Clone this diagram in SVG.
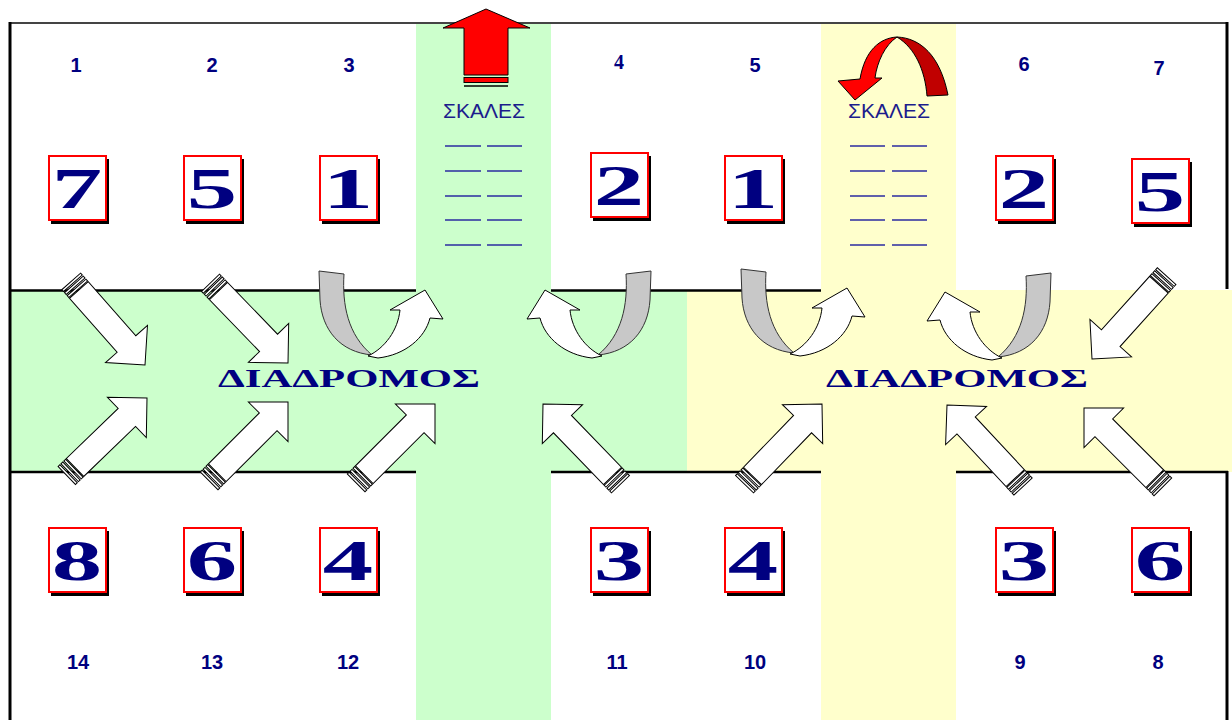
<svg xmlns="http://www.w3.org/2000/svg" xmlns:xlink="http://www.w3.org/1999/xlink" width="1232" height="720" viewBox="0 0 1232 720">
<style>
.shadow{fill:#000}
.box{fill:#fff;stroke:#ff0000;stroke-width:2}
.big{font-family:"Liberation Serif",serif;font-weight:bold;font-size:56px;fill:#000080;text-anchor:middle}
.num{font-family:"Liberation Sans",Arial,sans-serif;font-weight:bold;font-size:20px;fill:#000080;text-anchor:middle}
.skales{font-family:"Liberation Sans",Arial,sans-serif;font-size:21px;fill:#1c1c8c;text-anchor:middle}
.corr{font-family:"Liberation Serif",serif;font-weight:bold;font-size:26px;fill:#000080}
.dash{stroke:#2b2ba0;stroke-width:1.5}
.wall{stroke:#000;stroke-width:2.5;fill:none}
.arr{fill:#fff;stroke:#000;stroke-width:1;stroke-linejoin:miter}
.gray{fill:#c8c8c8;stroke:#333;stroke-width:1}
</style>
<defs>
<g id="sa">
<path class="arr" d="M0,0 L-28,-28 L-28,-12.5 L-100,-12.5 L-100,12.5 L-28,12.5 L-28,28 Z"/>
<rect class="arr" x="-103.5" y="-12.5" width="2.5" height="25"/>
<rect class="arr" x="-107.5" y="-12.5" width="2.5" height="25"/>
<rect class="arr" x="-111.5" y="-12.5" width="2.5" height="25"/>
</g>
<g id="ca">
<path class="gray" d="M319,271 L344,274 C342,305 348,335 372,355 C340,352 322,330 320,300 Z"/>
<path class="arr" d="M368,356 C385,348 398,330 400,310 L390,310 L425,290 L443,319 L430,318 C425,338 405,355 378,358 Z"/>
</g>
</defs>

<g id="background">
<rect x="0" y="0" width="1232" height="720" fill="#fff"/>
<rect x="416" y="24" width="135" height="696" fill="#ccffcc"/>
<rect x="821" y="24" width="135" height="696" fill="#ffffcc"/>
<rect x="10" y="290" width="677" height="182" fill="#ccffcc"/>
<rect x="687" y="290" width="545" height="182" fill="#ffffcc"/>
</g>

<g id="walls">
<line x1="9" y1="23" x2="1228" y2="23" stroke="#444" stroke-width="2"/>
<line x1="10" y1="22" x2="10" y2="720" stroke="#000" stroke-width="3"/>
<line x1="1227" y1="22" x2="1227" y2="289" stroke="#000" stroke-width="3"/>
<line x1="1227" y1="471" x2="1227" y2="720" stroke="#000" stroke-width="3"/>
<line class="wall" x1="10" y1="290.5" x2="416" y2="290.5"/>
<line class="wall" x1="551" y1="290.5" x2="821" y2="290.5"/>
<line class="wall" x1="10" y1="472" x2="416" y2="472"/>
<line class="wall" x1="551" y1="472" x2="821" y2="472"/>
<line class="wall" x1="956" y1="472" x2="1228" y2="472"/>
</g>

<g id="room-numbers">
<text class="num" x="76" y="72">1</text>
<text class="num" x="212" y="72">2</text>
<text class="num" x="349" y="72">3</text>
<text class="num" x="619" y="69" style="font-family:'Liberation Serif',serif">4</text>
<text class="num" x="755" y="72">5</text>
<text class="num" x="1024" y="71">6</text>
<text class="num" x="1159" y="75">7</text>
<text class="num" x="78" y="669">14</text>
<text class="num" x="212" y="669">13</text>
<text class="num" x="348" y="669">12</text>
<text class="num" x="617" y="669">11</text>
<text class="num" x="755" y="669">10</text>
<text class="num" x="1020" y="669">9</text>
<text class="num" x="1158" y="669">8</text>
</g>

<g id="stairs-left">
<path d="M486,9 L530,28 L508,28 L508,75 L464,75 L464,28 L443,28 Z" fill="#ff0000" stroke="#000" stroke-width="1"/>
<rect x="464" y="77.5" width="44" height="5" fill="#ff0000" stroke="#000" stroke-width="1"/>
<line x1="464" y1="86" x2="508" y2="86" stroke="#000" stroke-width="1.5"/>
<text class="skales" x="484" y="118">ΣΚΑΛΕΣ</text>
<g class="dash">
<line x1="445" y1="146" x2="481" y2="146"/><line x1="487" y1="146" x2="522" y2="146"/>
<line x1="445" y1="171" x2="481" y2="171"/><line x1="487" y1="171" x2="522" y2="171"/>
<line x1="445" y1="196" x2="481" y2="196"/><line x1="487" y1="196" x2="522" y2="196"/>
<line x1="445" y1="220" x2="481" y2="220"/><line x1="487" y1="220" x2="522" y2="220"/>
<line x1="445" y1="245" x2="481" y2="245"/><line x1="487" y1="245" x2="522" y2="245"/>
</g>
</g>

<g id="stairs-right">
<path d="M897,37 C920,38 940,55 948,95 L927,96 C925,70 915,48 897,37 Z" fill="#c00000" stroke="#000" stroke-width="1"/>
<path d="M897,37 C880,38 865,50 860,79 L838,81 L855,100 L882,78 L875,78 C877,62 885,45 897,37 Z" fill="#ff0000" stroke="#000" stroke-width="1"/>
<text class="skales" x="889" y="118">ΣΚΑΛΕΣ</text>
<g class="dash">
<line x1="850" y1="146" x2="885" y2="146"/><line x1="892" y1="146" x2="927" y2="146"/>
<line x1="850" y1="171" x2="885" y2="171"/><line x1="892" y1="171" x2="927" y2="171"/>
<line x1="850" y1="196" x2="885" y2="196"/><line x1="892" y1="196" x2="927" y2="196"/>
<line x1="850" y1="220" x2="885" y2="220"/><line x1="892" y1="220" x2="927" y2="220"/>
<line x1="850" y1="245" x2="885" y2="245"/><line x1="892" y1="245" x2="927" y2="245"/>
</g>
</g>

<g id="corridor-labels">
<text class="corr" x="218" y="387" textLength="262" lengthAdjust="spacingAndGlyphs">ΔΙΑΔΡΟΜΟΣ</text>
<text class="corr" x="826" y="387" textLength="262" lengthAdjust="spacingAndGlyphs">ΔΙΑΔΡΟΜΟΣ</text>
</g>

<g id="box-t1"><rect class="shadow" x="51" y="159" width="58" height="65"/><rect class="box" x="49" y="156" width="57" height="64"/><text class="big" transform="translate(77,208) scale(1.8,1)">7</text></g>
<g id="box-t2"><rect class="shadow" x="186" y="159" width="58" height="65"/><rect class="box" x="184" y="156" width="57" height="64"/><text class="big" transform="translate(212,208) scale(1.8,1)">5</text></g>
<g id="box-t3"><rect class="shadow" x="322" y="159" width="58" height="65"/><rect class="box" x="320" y="156" width="57" height="64"/><text class="big" transform="translate(348,208) scale(1.8,1)">1</text></g>
<g id="box-t4"><rect class="shadow" x="593" y="156" width="58" height="65"/><rect class="box" x="591" y="153" width="57" height="64"/><text class="big" transform="translate(619,205) scale(1.8,1)">2</text></g>
<g id="box-t5"><rect class="shadow" x="727" y="159" width="58" height="65"/><rect class="box" x="725" y="156" width="57" height="64"/><text class="big" transform="translate(753,208) scale(1.8,1)">1</text></g>
<g id="box-t6"><rect class="shadow" x="998" y="159" width="58" height="65"/><rect class="box" x="996" y="156" width="57" height="64"/><text class="big" transform="translate(1024,208) scale(1.8,1)">2</text></g>
<g id="box-t7"><rect class="shadow" x="1134" y="162" width="58" height="65"/><rect class="box" x="1132" y="159" width="57" height="64"/><text class="big" transform="translate(1160,211) scale(1.8,1)">5</text></g>

<g id="box-b14"><rect class="shadow" x="51" y="531" width="58" height="65"/><rect class="box" x="49" y="528" width="57" height="64"/><text class="big" transform="translate(77,580) scale(1.8,1)">8</text></g>
<g id="box-b13"><rect class="shadow" x="186" y="531" width="58" height="65"/><rect class="box" x="184" y="528" width="57" height="64"/><text class="big" transform="translate(212,580) scale(1.8,1)">6</text></g>
<g id="box-b12"><rect class="shadow" x="322" y="531" width="58" height="65"/><rect class="box" x="320" y="528" width="57" height="64"/><text class="big" transform="translate(348,580) scale(1.8,1)">4</text></g>
<g id="box-b11"><rect class="shadow" x="593" y="531" width="58" height="65"/><rect class="box" x="591" y="528" width="57" height="64"/><text class="big" transform="translate(619,580) scale(1.8,1)">3</text></g>
<g id="box-b10"><rect class="shadow" x="727" y="531" width="58" height="65"/><rect class="box" x="725" y="528" width="57" height="64"/><text class="big" transform="translate(753,580) scale(1.8,1)">4</text></g>
<g id="box-b9"><rect class="shadow" x="998" y="531" width="58" height="65"/><rect class="box" x="996" y="528" width="57" height="64"/><text class="big" transform="translate(1024,580) scale(1.8,1)">3</text></g>
<g id="box-b8"><rect class="shadow" x="1134" y="531" width="58" height="65"/><rect class="box" x="1132" y="528" width="57" height="64"/><text class="big" transform="translate(1160,580) scale(1.8,1)">6</text></g>

<g id="connectors">
<use xlink:href="#sa" transform="translate(145,365) rotate(48.6)"/>
<use xlink:href="#sa" transform="translate(288,363) rotate(46)"/>
<use xlink:href="#sa" transform="translate(147,398) rotate(-44)"/>
<use xlink:href="#sa" transform="translate(288,402) rotate(-45)"/>
<use xlink:href="#sa" transform="translate(435,404) rotate(-45)"/>
<use xlink:href="#sa" transform="translate(543,404) rotate(-134)"/>
<use xlink:href="#sa" transform="translate(822,404) rotate(-46)"/>
<use xlink:href="#sa" transform="translate(947,405) rotate(-133)"/>
<use xlink:href="#sa" transform="translate(1084,408) rotate(-135)"/>
<use xlink:href="#sa" transform="translate(1092,359) rotate(132)"/>
<use xlink:href="#ca"/>
<use xlink:href="#ca" transform="translate(970,0) scale(-1,1)"/>
<use xlink:href="#ca" transform="translate(422,-2)"/>
<use xlink:href="#ca" transform="translate(1370,2) scale(-1,1)"/>
</g>
</svg>
